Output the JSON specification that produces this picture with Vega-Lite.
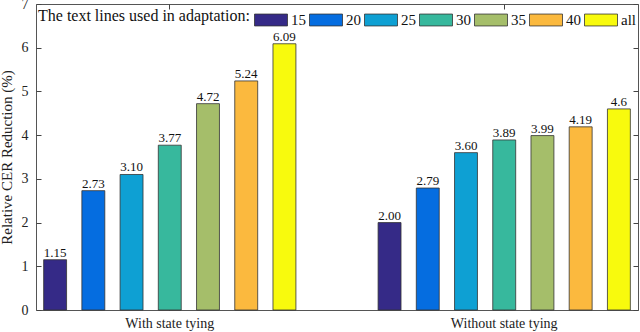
{
  "$schema": "https://vega.github.io/schema/vega-lite/v6.json",
  "autosize": "none",
  "width": 602,
  "height": 306,
  "padding": {"left": 36, "top": 4, "right": 2, "bottom": 22},
  "background": "white",
  "config": {
    "font": "Liberation Serif",
    "view": {"stroke": "#555555", "strokeWidth": 1},
    "text": {"font": "Liberation Serif"},
    "style": {
      "guide-label": {"font": "Liberation Serif"},
      "guide-title": {"font": "Liberation Serif"},
      "text": {"font": "Liberation Serif"}
    },
    "legend": {"labelFont": "Liberation Serif", "titleFont": "Liberation Serif"},
    "axis": {"labelFont": "Liberation Serif", "titleFont": "Liberation Serif", "labelColor": "#222", "titleColor": "#222", "tickColor": "#444", "domain": false, "grid": false, "labelOverlap": false}
  },
  "data": {"values": [
    {"group": "With state tying", "lines": "15", "value": 1.15, "label": "1.15"},
    {"group": "With state tying", "lines": "20", "value": 2.73, "label": "2.73"},
    {"group": "With state tying", "lines": "25", "value": 3.10, "label": "3.10"},
    {"group": "With state tying", "lines": "30", "value": 3.77, "label": "3.77"},
    {"group": "With state tying", "lines": "35", "value": 4.72, "label": "4.72"},
    {"group": "With state tying", "lines": "40", "value": 5.24, "label": "5.24"},
    {"group": "With state tying", "lines": "all", "value": 6.09, "label": "6.09"},
    {"group": "Without state tying", "lines": "15", "value": 2.00, "label": "2.00"},
    {"group": "Without state tying", "lines": "20", "value": 2.79, "label": "2.79"},
    {"group": "Without state tying", "lines": "25", "value": 3.60, "label": "3.60"},
    {"group": "Without state tying", "lines": "30", "value": 3.89, "label": "3.89"},
    {"group": "Without state tying", "lines": "35", "value": 3.99, "label": "3.99"},
    {"group": "Without state tying", "lines": "40", "value": 4.19, "label": "4.19"},
    {"group": "Without state tying", "lines": "all", "value": 4.6, "label": "4.6"}
  ]},
  "encoding": {
    "x": {"field": "group", "type": "nominal", "sort": null, "scale": {"paddingInner": 0.2, "paddingOuter": 0}},
    "xOffset": {"field": "lines", "type": "nominal", "sort": ["15", "20", "25", "30", "35", "40", "all"], "scale": {"paddingInner": 0.4, "paddingOuter": 0.2}},
    "y": {"field": "value", "type": "quantitative", "scale": {"domain": [0, 7], "nice": false}}
  },
  "layer": [
    {
      "mark": {"type": "bar", "stroke": "#333333", "strokeWidth": 0.8},
      "encoding": {
        "x": {"field": "group", "type": "nominal", "sort": null, "axis": {"orient": "bottom", "title": null, "labelAngle": 0, "labelFontSize": 14, "tickSize": -5, "labelPadding": 11}},
        "y": {"field": "value", "type": "quantitative", "axis": {"orient": "left", "title": "Relative CER Reduction (%)", "titleFontSize": 15, "titleFontWeight": "normal", "titlePadding": 7, "labelFontSize": 14, "values": [0,1,2,3,4,5,6,7], "tickSize": -5, "labelPadding": 13}},
        "fill": {
          "field": "lines", "type": "nominal",
          "sort": ["15", "20", "25", "30", "35", "40", "all"],
          "scale": {"range": ["#352a87", "#056de0", "#0ea0d3", "#37b89d", "#a5be6a", "#fbb93e", "#f8fa0d"]},
          "legend": {
            "title": "The text lines used in adaptation:",
            "orient": "none", "direction": "horizontal", "legendX": 2, "legendY": -1,
            "titleOrient": "left", "titleFont": "Liberation Serif", "titleFontSize": 16, "titleFontWeight": "normal", "titleColor": "#111", "titlePadding": 4, "titleBaseline": "middle", "titleLimit": 400,
            "labelFont": "Liberation Serif", "labelFontSize": 15, "labelColor": "#111", "labelOffset": 3, "columnPadding": 1,
            "symbolType": "M-1,-0.36H1V0.36H-1Z", "symbolSize": 1089, "symbolStrokeColor": "#333", "symbolStrokeWidth": 0.8, "symbolOpacity": 1,
            "padding": 0
          }
        }
      }
    },
    {
      "mark": {"type": "text", "baseline": "bottom", "dy": 0, "fontSize": 13, "font": "Liberation Serif", "color": "#111"},
      "encoding": {
        "x": {"field": "group", "type": "nominal", "sort": null, "axis": {"orient": "top", "title": null, "labels": false, "tickSize": -5}},
        "y": {"field": "value", "type": "quantitative", "axis": {"orient": "right", "title": null, "labels": false, "values": [0,1,2,3,4,5,6,7], "tickSize": -5}},
        "text": {"field": "label"}
      }
    }
  ],
  "resolve": {"axis": {"x": "independent", "y": "independent"}}
}
